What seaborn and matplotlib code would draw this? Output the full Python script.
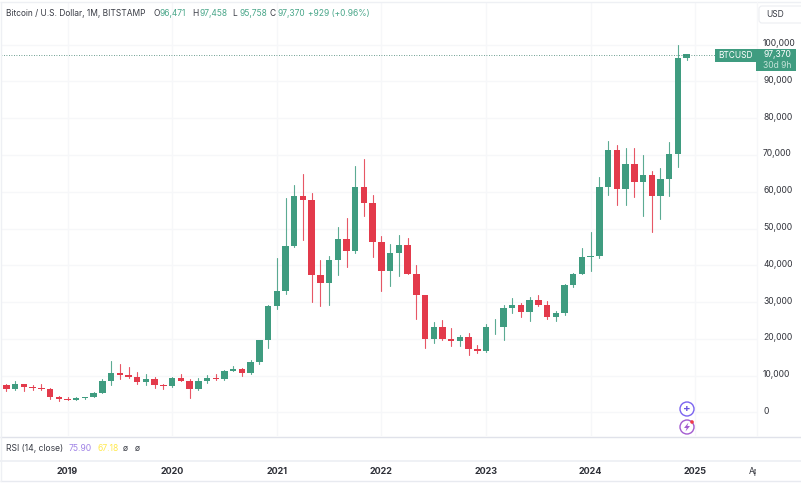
import numpy as np
import pandas as pd
import matplotlib
matplotlib.use("Agg")
import matplotlib.pyplot as plt
from matplotlib.patches import Rectangle, FancyBboxPatch, Circle, Polygon
from matplotlib.transforms import Bbox
import seaborn as sns

# Monthly candles, Jun 2018 .. Dec 2024 (month 0 = Jan 2019 -> offsets from -7)
opens = [7500,6390,7730,7010,6630,6370,4040,3700,3440,3820,4100,5270,8560,10800,10080,9600,8290,9150,7540,
         7190,9350,8540,6410,8620,9450,9140,11350,11650,10780,13800,19700,28990,33110,45200,58800,57700,37300,
         35040,41500,47100,43800,61300,57000,46200,38500,43200,45500,37650,31800,19900,23300,20050,19420,20500,
         17170,16540,23130,23140,28480,29270,27220,30480,29230,25950,26970,34660,37720,42280,42580,61180,71330,
         60650,67500,62770,64620,58970,63330,70290,96470]
highs = [7770,8450,7770,7400,7680,6590,4400,4070,4200,4100,5600,9070,13880,13150,12330,10950,10370,9520,7750,
         9570,10500,9190,9460,10070,10380,11440,12470,12050,14100,19800,29300,41950,58330,61800,64900,59600,41300,
         42400,50500,52900,67000,69000,59000,47900,45800,48200,47400,40000,31900,24600,25200,22800,21100,21500,
         18400,23900,25250,29200,31000,29800,31400,31800,30200,27500,35000,38000,44700,48970,64000,73800,72800,
         71950,72000,70000,65600,66500,73600,99800,97458]
lows = [5750,6070,5880,6100,6200,3550,3120,3350,3380,3670,4100,5330,7440,9100,9320,7710,7300,6500,6430,
        6850,8400,3850,6150,8100,8900,8900,11110,9850,10370,13200,17600,28130,32300,44950,47000,30000,28800,
        29300,37300,39600,43300,53500,42300,32950,34300,37100,37600,25400,17600,18900,19600,18100,18150,15500,
        16250,16500,21350,19550,26950,25850,24750,28850,25300,24900,26550,34100,37600,38500,41850,59100,56500,
        56500,58500,53500,49000,52500,58900,66800,95758]
closes = opens[1:] + [97370]
first_month = -7

year_labels = ["2019", "2020", "2021", "2022", "2023", "2024", "2025"]
year_months = [0, 12, 24, 36, 48, 60, 72]
price_ticks = [0, 10000, 20000, 30000, 40000, 50000, 60000, 70000, 80000, 90000, 100000]
last_price = 97370

GREEN = "#3f9c80"
RED = "#e33a4b"
GRID = "#f6f7f9"
INK = "#2e3038"

sns.set_theme(style="white")
plt.rcParams["font.family"] = ["Inter", "DejaVu Sans"]

n = len(opens)
df = pd.DataFrame({"month": np.arange(n) + first_month, "open": opens, "high": highs,
                   "low": lows, "close": closes})
df["dir"] = np.where(df["close"] >= df["open"], "up", "down")
df["base"] = df[["open", "close"]].min(axis=1)
df["body"] = (df["close"] - df["open"]).abs().clip(lower=150)
palette = {"up": GREEN, "down": RED}

W, H = 801, 486
fig = plt.figure(figsize=(W / 100, H / 100), dpi=100)
fig.patch.set_facecolor("white")

# main pane: x 1..757 px, y 3..436 px
L, R, T, B = 1, 757, 3, 436
ax = fig.add_axes([L / W, 1 - B / H, (R - L) / W, (B - T) / H])
ax.set_facecolor("white")

wicks = df.melt(id_vars=["month", "dir"], value_vars=["low", "high"], value_name="price")
sns.lineplot(data=wicks, x="month", y="price", units="month", estimator=None, hue="dir",
             palette=palette, legend=False, lw=0.8, alpha=0.85, ax=ax, zorder=2)
for d in ["up", "down"]:
    part = df[df["dir"] == d]
    sns.barplot(data=part, x="month", y="body", bottom=part["base"].values, native_scale=True,
                color=palette[d], saturation=1, errorbar=None, width=0.74, linewidth=0,
                ax=ax, zorder=3)

px_month = 8.72
x0 = 67.5
ax.set_xlim((L - x0) / px_month, (R - x0) / px_month)
px_val = 0.003676
y0 = 412.3
ax.set_ylim((y0 - B) / px_val, (y0 - T) / px_val)

ax.set_yticks(price_ticks)
ax.set_xticks(year_months)
ax.set_xticklabels([])
ax.set_yticklabels([])
ax.set_xlabel("")
ax.set_ylabel("")
ax.tick_params(length=0)
ax.grid(True, color=GRID, lw=1, zorder=0)
ax.set_axisbelow(True)
sns.despine(ax=ax, left=True, bottom=True, top=True, right=True)

ax.axhline(last_price - 150, color="#3c7f6c", lw=0.6, ls=(0, (1, 2)), zorder=4)

# chrome in pixel coordinates
ov = fig.add_axes([0, 0, 1, 1], facecolor="none")
ov.set_xlim(0, W)
ov.set_ylim(H, 0)
ov.axis("off")


def hline(y, x1=0, x2=W, c="#e6e8ef", lw=1):
    ov.plot([x1, x2], [y, y], color=c, lw=lw, solid_capstyle="butt")


hline(2.5, c="#eef0f4")
hline(436.5, c="#e0e2ea")
hline(460.5, c="#eff1f5", lw=1.4)
hline(480.5, c="#e8eaf0")
ov.plot([0.5, 0.5], [2, 481], color="#eef0f4", lw=1)
ov.plot([756.5, 756.5], [2, 436], color="#f6f7f9", lw=1)

# y tick labels
for v in price_ticks:
    ypx = y0 - v * px_val - 1
    ov.text(763, ypx, f"{v:,}", fontsize=6.1, color=INK, va="center", ha="left")

# time axis labels
for m, lab in zip(year_months, year_labels):
    ov.text(x0 + m * px_month, 471, lab, fontsize=6.5, fontweight="bold", color=INK, ha="center", va="center")
t = ov.text(749, 471.5, "Apr", fontsize=6.1, color=INK, ha="left", va="center", clip_on=True)
t.set_clip_box(Bbox([[740, 0], [756, H]]))

# legend line
TXT = "#3a3d46"
TG = "#4aa78a"
title_parts = [(6, "Bitcoin / U.S. Dollar, 1M, BITSTAMP", TXT), (153, "O", TXT), (160, "96,471", TG),
               (192, "H", TXT), (199, "97,458", TG), (232, "L", TXT), (239, "95,758", TG),
               (270, "C", TXT), (277, "97,370", TG), (308, "+929 (+0.96%)", TG)]
for xp, s, c in title_parts:
    ov.text(xp, 13.5, s, fontsize=6.05, color=c, ha="left", va="center")

# RSI line
rsi_parts = [(6, "RSI (14, close)", TXT), (69, "75.90", "#a083e6"), (97, "67.18", "#ffe94f"),
             (123, "ø", TXT), (135, "ø", TXT)]
for xp, s, c in rsi_parts:
    ov.text(xp, 448, s, fontsize=6.2, color=c, ha="left", va="center")

# price labels
ov.add_patch(Rectangle((715, 49), 41, 13.5, facecolor=GREEN, edgecolor="none", zorder=5))
ov.add_patch(Rectangle((756, 49), 40, 22, facecolor=GREEN, edgecolor="none", zorder=5))
ov.text(735.5, 56, "BTCUSD", fontsize=6.0, color="white", ha="center", va="center", zorder=6)
ov.text(763, 54.5, "97,370", fontsize=6.1, color="white", ha="left", va="center", zorder=6)
ov.text(763, 65, "30d 9h", fontsize=6.1, color="#c4e3d8", ha="left", va="center", zorder=6)

# currency button
ov.add_patch(FancyBboxPatch((759, 6), 50, 17, boxstyle="round,pad=0,rounding_size=3",
                            facecolor="white", edgecolor="#eceef2", lw=0.8, zorder=5, clip_on=True))
ov.text(766, 14.5, "USD", fontsize=6.1, color=TXT, ha="left", va="center", zorder=6)

# marks near the last bar
ov.add_patch(Circle((687, 409), 7, facecolor="white", edgecolor="#7a63f0", lw=1, zorder=5))
ov.text(687, 408.5, "+", fontsize=8, fontweight="bold", color="#6a55e0", ha="center", va="center", zorder=6)
ov.add_patch(Circle((687, 427), 7, facecolor="white", edgecolor="#a25bd0", lw=1, zorder=5))
ov.add_patch(Polygon([(688.5, 422.5), (684, 428), (686.7, 428), (685.5, 431.5), (690, 426), (687.3, 426)],
                     closed=True, facecolor="#a25bd0", edgecolor="none", zorder=6))
ov.add_patch(Circle((692, 422), 1.8, facecolor="#ef3b4a", edgecolor="none", zorder=7))

fig.savefig("out.png", dpi=100)
